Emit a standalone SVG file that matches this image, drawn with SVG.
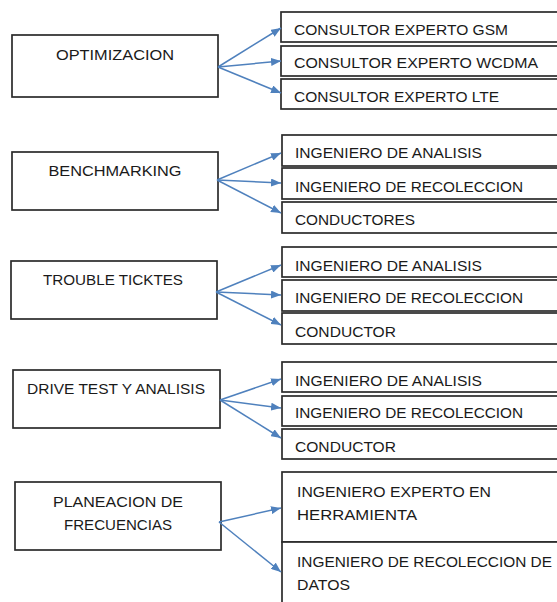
<svg xmlns="http://www.w3.org/2000/svg" width="557" height="602" viewBox="0 0 557 602">
<style>
.box{fill:#fff;stroke:#2b2b2b;stroke-width:1.7}
.t{font-family:"Liberation Sans",Arial,sans-serif;font-size:15.5px;fill:#1a1a1a}
.m{text-anchor:middle}
.c{stroke:#4f81bd;stroke-width:1.5;fill:none;marker-end:url(#ah)}
</style>
<defs>
<marker id="ah" markerUnits="userSpaceOnUse" markerWidth="10" markerHeight="8" refX="10" refY="4" orient="auto">
<path d="M0,0 L10,4 L0,8 Z" fill="#4f81bd"/>
</marker>
</defs>
<rect width="557" height="602" fill="#fff"/>

<g id="optimizacion"><rect class="box" x="12" y="35" width="206" height="62"/><text class="t m" x="115" y="60" textLength="118" lengthAdjust="spacingAndGlyphs">OPTIMIZACION</text></g>
<g id="benchmarking"><rect class="box" x="12" y="152" width="206" height="58"/><text class="t m" x="115" y="176" textLength="133" lengthAdjust="spacingAndGlyphs">BENCHMARKING</text></g>
<g id="trouble"><rect class="box" x="11" y="261" width="206" height="58"/><text class="t m" x="113" y="285" textLength="140" lengthAdjust="spacingAndGlyphs">TROUBLE TICKTES</text></g>
<g id="drivetest"><rect class="box" x="13" y="370" width="207" height="58"/><text class="t m" x="116" y="394" textLength="178" lengthAdjust="spacingAndGlyphs">DRIVE TEST Y ANALISIS</text></g>
<g id="planeacion"><rect class="box" x="15" y="482" width="206" height="68"/><text class="t m" x="118" y="507" textLength="130" lengthAdjust="spacingAndGlyphs">PLANEACION DE</text><text class="t m" x="118" y="530" textLength="108" lengthAdjust="spacingAndGlyphs">FRECUENCIAS</text></g>

<g id="gsm"><rect class="box" x="281" y="12" width="280" height="30"/><text class="t" x="294" y="35" textLength="214" lengthAdjust="spacingAndGlyphs">CONSULTOR  EXPERTO GSM</text></g>
<g id="wcdma"><rect class="box" x="281" y="46" width="280" height="30"/><text class="t" x="294" y="68" textLength="244" lengthAdjust="spacingAndGlyphs">CONSULTOR  EXPERTO WCDMA</text></g>
<g id="lte"><rect class="box" x="281" y="79" width="280" height="30"/><text class="t" x="294" y="102" textLength="205" lengthAdjust="spacingAndGlyphs">CONSULTOR  EXPERTO LTE</text></g>

<g id="b-analisis"><rect class="box" x="282" y="135" width="280" height="31"/><text class="t" x="295" y="158" textLength="187" lengthAdjust="spacingAndGlyphs">INGENIERO DE ANALISIS</text></g>
<g id="b-recoleccion"><rect class="box" x="282" y="168" width="280" height="31"/><text class="t" x="295" y="192" textLength="228" lengthAdjust="spacingAndGlyphs">INGENIERO DE RECOLECCION</text></g>
<g id="b-conductores"><rect class="box" x="282" y="202" width="280" height="31"/><text class="t" x="295" y="225" textLength="120" lengthAdjust="spacingAndGlyphs">CONDUCTORES</text></g>

<g id="t-analisis"><rect class="box" x="282" y="247" width="280" height="30"/><text class="t" x="295" y="271" textLength="187" lengthAdjust="spacingAndGlyphs">INGENIERO DE ANALISIS</text></g>
<g id="t-recoleccion"><rect class="box" x="282" y="280" width="280" height="31"/><text class="t" x="295" y="303" textLength="228" lengthAdjust="spacingAndGlyphs">INGENIERO DE RECOLECCION</text></g>
<g id="t-conductor"><rect class="box" x="282" y="313" width="280" height="31"/><text class="t" x="295" y="337" textLength="101" lengthAdjust="spacingAndGlyphs">CONDUCTOR</text></g>

<g id="d-analisis"><rect class="box" x="282" y="362" width="280" height="30"/><text class="t" x="295" y="386" textLength="187" lengthAdjust="spacingAndGlyphs">INGENIERO DE ANALISIS</text></g>
<g id="d-recoleccion"><rect class="box" x="282" y="396" width="280" height="30"/><text class="t" x="295" y="418" textLength="228" lengthAdjust="spacingAndGlyphs">INGENIERO DE RECOLECCION</text></g>
<g id="d-conductor"><rect class="box" x="282" y="429" width="280" height="30"/><text class="t" x="295" y="452" textLength="101" lengthAdjust="spacingAndGlyphs">CONDUCTOR</text></g>

<g id="p-experto"><rect class="box" x="282" y="472" width="280" height="70"/><text class="t" x="297" y="497" textLength="194" lengthAdjust="spacingAndGlyphs">INGENIERO EXPERTO  EN</text><text class="t" x="297" y="520" textLength="120" lengthAdjust="spacingAndGlyphs">HERRAMIENTA</text></g>
<g id="p-datos"><rect class="box" x="282" y="542" width="280" height="70"/><text class="t" x="297" y="567" textLength="255" lengthAdjust="spacingAndGlyphs">INGENIERO DE RECOLECCION DE</text><text class="t" x="297" y="590" textLength="53" lengthAdjust="spacingAndGlyphs">DATOS</text></g>

<g id="connectors">
<path class="c" d="M218,67 L281,28"/>
<path class="c" d="M218,67 L281,61"/>
<path class="c" d="M218,67 L281,93"/>
<path class="c" d="M217,180 L281,153"/>
<path class="c" d="M217,180 L281,183"/>
<path class="c" d="M217,180 L281,213"/>
<path class="c" d="M216,292 L281,265"/>
<path class="c" d="M216,292 L281,295"/>
<path class="c" d="M216,292 L281,325"/>
<path class="c" d="M220,400 L281,379"/>
<path class="c" d="M220,400 L281,408"/>
<path class="c" d="M220,400 L281,438"/>
<path class="c" d="M219,522 L281,508"/>
<path class="c" d="M219,522 L281,572"/>
</g>
</svg>
